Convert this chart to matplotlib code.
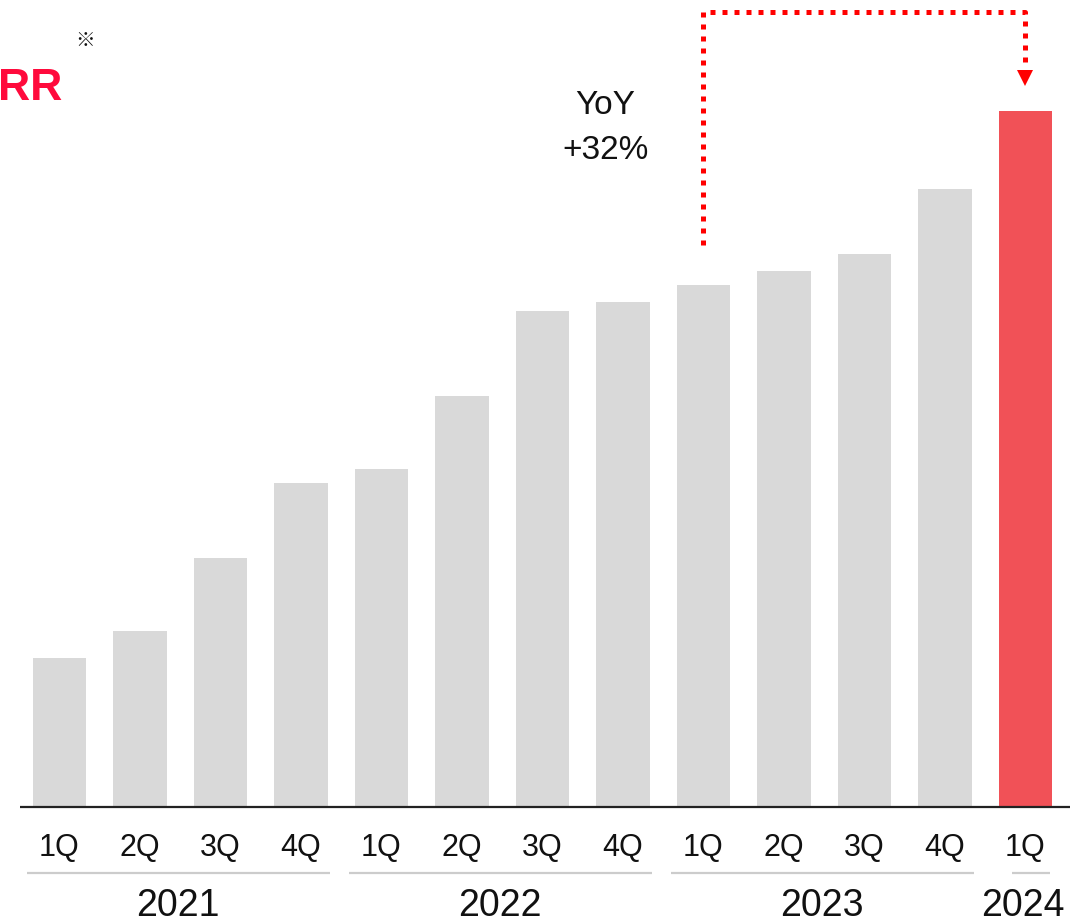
import matplotlib.pyplot as plt
import matplotlib.transforms as mtransforms

plt.rcParams['font.family'] = ['Liberation Sans', 'Noto Sans CJK JP', 'DejaVu Sans']

# ARR by quarter (index, relative units)
quarters = ["1Q", "2Q", "3Q", "4Q", "1Q", "2Q", "3Q", "4Q", "1Q", "2Q", "3Q", "4Q", "1Q"]
arr = [149, 176, 249, 324, 338, 411, 496, 505, 522, 536, 553, 618, 696]
years = ["2021", "2022", "2023", "2024"]
year_groups = [(0, 3), (4, 7), (8, 11), (12, 12)]
yoy_label = "YoY\n+32%"

GRAY = "#d9d9d9"
RED_BAR = "#f15157"
RED_TEXT = "#ff0a3c"
RED_LINE = "#ff0000"

fig = plt.figure(figsize=(10.91, 9.23), dpi=100)
ax = fig.add_axes([0, 0, 1, 1])
ax.set_xlim(-0.739, 12.814)
ax.set_ylim(-116, 807)
ax.axis("off")

x = list(range(len(arr)))
colors = [GRAY] * (len(arr) - 1) + [RED_BAR]
ax.bar(x, arr, width=0.66, color=colors, zorder=2)

# baseline
ax.plot([-0.49, 12.55], [0, 0], color="#222222", lw=1.6, solid_capstyle="butt", zorder=3)

# quarter labels
for i, q in enumerate(quarters):
    ax.text(i, -41, q, ha="center", va="center", fontsize=22, color="#111111")

# year brackets and labels
for (a, b), yr in zip(year_groups, years):
    if a == b:
        x0, x1 = a - 0.17, b + 0.3
    else:
        x0, x1 = a - 0.4, b + 0.36
    ax.plot([x0, x1], [-66, -66], color="#cccccc", lw=1.6, solid_capstyle="butt")
    ax.text((a + b) / 2 - 0.03, -99, yr, ha="center", va="center", fontsize=27, color="#111111")

# dotted YoY connector from 1Q 2023 to 1Q 2024
start = 8
end = 12
top = arr[end] + 99
path_x = [start, start, end, end]
path_y = [arr[start] + 40, top, top, arr[end] + 49]
ax.plot(path_x, path_y, color=RED_LINE, lw=3.6, linestyle=(0, (1, 1.4)),
        dash_capstyle="butt", solid_joinstyle="miter", zorder=4)
ax.plot(end, arr[end] + 33, marker="v", markersize=12, color=RED_LINE,
        markeredgewidth=0, zorder=4)

ax.text(6.78, 679, yoy_label, ha="center", va="center", fontsize=24,
        linespacing=1.6, color="#111111")

# title, running off the left edge
ax.text(-2, 823, "RR", transform=mtransforms.IdentityTransform(),
        ha="left", va="baseline", fontsize=32, fontweight="bold", color=RED_TEXT)
ax.text(85, 881, "※", transform=mtransforms.IdentityTransform(),
        ha="center", va="center", fontsize=14, color="#111111")

fig.savefig("out.png", dpi=100)
